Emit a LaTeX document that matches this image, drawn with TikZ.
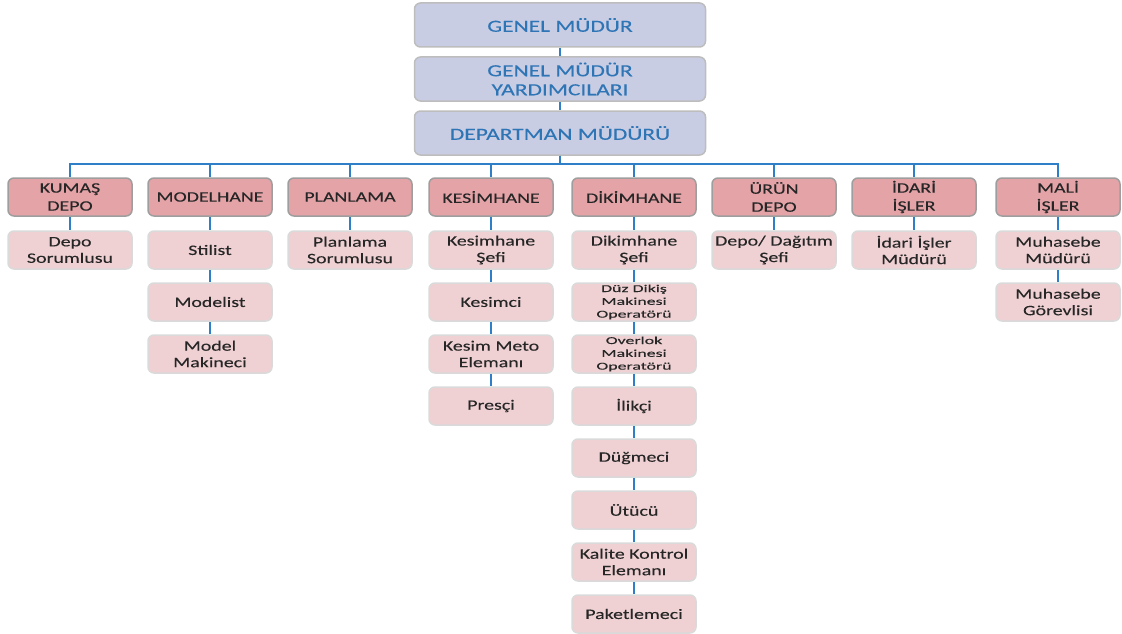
\documentclass[tikz,border=0pt]{standalone}
\usepackage{fontspec}
\setmainfont{Carlito}[FakeStretch=1.38,FakeBold=0.2]
\newfontfamily\tinyfont{Carlito}[FakeStretch=1.7,FakeBold=0.2]
\definecolor{cTop}{HTML}{C9CDE3}
\definecolor{cTopLine}{HTML}{BDBDBD}
\definecolor{cTopText}{HTML}{2E75B6}
\definecolor{cDept}{HTML}{E3A3A7}
\definecolor{cDeptLine}{HTML}{9E9E9E}
\definecolor{cJob}{HTML}{F0D1D3}
\definecolor{cJobLine}{HTML}{DADADA}
\definecolor{cInk}{HTML}{262626}
\definecolor{cLink}{HTML}{2F7FC8}
\tikzset{
  topbox/.style={draw=cTopLine, fill=cTop, line width=1.5pt, rounded corners=6pt,
                 minimum width=291pt, minimum height=44pt, inner sep=0pt, align=center,
                 font=\fontsize{17}{19}\selectfont, text=cTopText},
  deptbox/.style={draw=cDeptLine, fill=cDept, line width=1.5pt, rounded corners=6pt,
                  minimum width=124pt, minimum height=38pt, inner sep=0pt, align=center,
                  font=\fontsize{14.4}{18}\selectfont, text=cInk},
  jobbox/.style={draw=cJobLine, fill=cJob, line width=1.5pt, rounded corners=6pt,
                 minimum width=124pt, minimum height=38pt, inner sep=0pt, align=center,
                 font=\fontsize{14.4}{16.5}\selectfont, text=cInk},
  tinyjob/.style={jobbox, font=\tinyfont\fontsize{10.5}{12.8}\selectfont},
  link/.style={draw=cLink, line width=2pt},
}
\begin{document}
\begin{tikzpicture}[x=1pt,y=-1pt]
\useasboundingbox (0,0) rectangle (1122,634);

\def\rD{197}

% ---------------------------------------------------------------- management
\node[topbox] (gm)  at (560,25)  {GENEL MÜDÜR};
\node[topbox] (gmy) at (560,79)  {GENEL MÜDÜR\\YARDIMCILARI};
\node[topbox] (dm)  at (560,133) {DEPARTMAN MÜDÜRÜ};

% ---------------------------------------------------------------- departments
\node[deptbox] (kumas) at (70,\rD)   {KUMAŞ\\DEPO};
\node[deptbox] (model) at (210,\rD)  {MODELHANE};
\node[deptbox] (plan)  at (350,\rD)  {PLANLAMA};
\node[deptbox] (kesim) at (491,\rD)  {KESİMHANE};
\node[deptbox] (dikim) at (634,\rD)  {DİKİMHANE};
\node[deptbox] (urun)  at (774,\rD)  {ÜRÜN\\DEPO};
\node[deptbox] (idari) at (914,\rD)  {İDARİ\\İŞLER};
\node[deptbox] (mali)  at (1058,\rD) {MALİ\\İŞLER};

% ---------------------------------------------------------------- staff
\node[jobbox] (kumas1) at (70,250) {Depo\\Sorumlusu};

\node[jobbox] (model1) at (210,250) {Stilist};
\node[jobbox] (model2) at (210,302) {Modelist};
\node[jobbox] (model3) at (210,354) {Model\\Makineci};

\node[jobbox] (plan1) at (350,250) {Planlama\\Sorumlusu};

\node[jobbox] (kesim1) at (491,250) {Kesimhane\\Şefi};
\node[jobbox] (kesim2) at (491,302) {Kesimci};
\node[jobbox] (kesim3) at (491,354) {Kesim Meto\\Elemanı};
\node[jobbox] (kesim4) at (491,406) {Presçi};

\node[jobbox]  (dikim1) at (634,250) {Dikimhane\\Şefi};
\node[tinyjob] (dikim2) at (634,302) {Düz Dikiş\\Makinesi\\Operatörü};
\node[tinyjob] (dikim3) at (634,354) {Overlok\\Makinesi\\Operatörü};
\node[jobbox]  (dikim4) at (634,406) {İlikçi};
\node[jobbox]  (dikim5) at (634,458) {Düğmeci};
\node[jobbox]  (dikim6) at (634,510) {Ütücü};
\node[jobbox]  (dikim7) at (634,562) {Kalite Kontrol\\Elemanı};
\node[jobbox]  (dikim8) at (634,614) {Paketlemeci};

\node[jobbox] (urun1) at (774,250) {Depo/ Dağıtım\\Şefi};

\node[jobbox] (idari1) at (914,250) {İdari İşler\\Müdürü};

\node[jobbox] (mali1) at (1058,250) {Muhasebe\\Müdürü};
\node[jobbox] (mali2) at (1058,302) {Muhasebe\\Görevlisi};

% ---------------------------------------------------------------- links
\draw[link] (gm) -- (gmy);
\draw[link] (gmy) -- (dm);
\foreach \d in {kumas,model,plan,kesim,dikim,urun,idari,mali}
  \draw[link] (dm.south) -- ++(0,8) -| (\d.north);

\foreach \a/\b in {kumas/kumas1, model/model1, model1/model2, model2/model3,
                   plan/plan1, kesim/kesim1, kesim1/kesim2, kesim2/kesim3, kesim3/kesim4,
                   dikim/dikim1, dikim1/dikim2, dikim2/dikim3, dikim3/dikim4,
                   dikim4/dikim5, dikim5/dikim6, dikim6/dikim7, dikim7/dikim8,
                   urun/urun1, idari/idari1, mali/mali1, mali1/mali2}
  \draw[link] (\a) -- (\b);

\end{tikzpicture}
\end{document}
